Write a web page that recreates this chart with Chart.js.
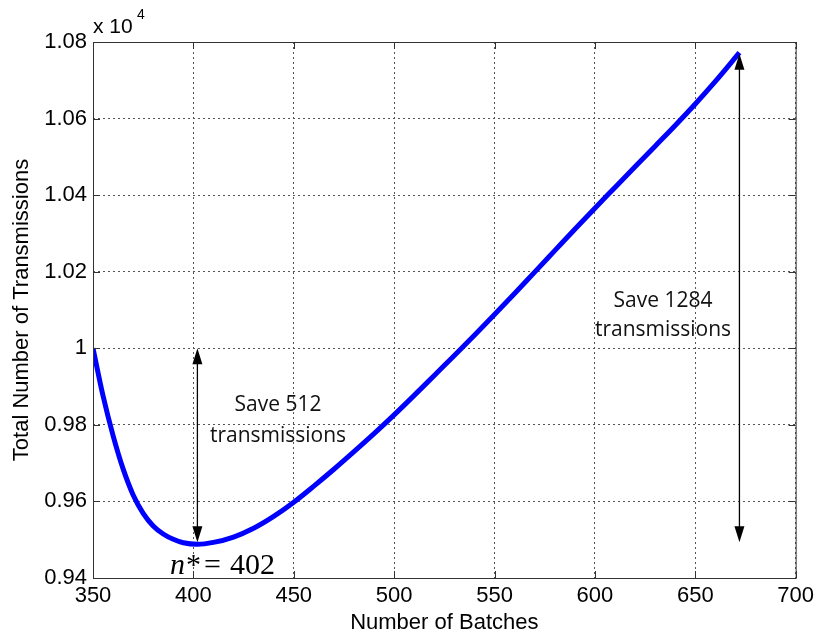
<!DOCTYPE html>
<html lang="en">
<head>
  <meta charset="UTF-8" />
  <title>Total Number of Transmissions</title>
  <script src="https://cdn.jsdelivr.net/npm/chart.js"></script>
  <style>
    html, body { margin: 0; padding: 0; background: #fff; }
    #wrap { width: 819px; height: 634px; }
  </style>
</head>
<body>
  <div id="wrap"><canvas id="batchChart" width="819" height="634"></canvas></div>

  <script>
    // number of batches vs total transmissions
    const batches = [350, 355, 360, 365, 370, 375, 380, 385, 390, 395, 402, 410, 420, 430, 440, 450, 460, 470, 480, 490,
                     500, 510, 520, 530, 540, 550, 560, 570, 580, 590, 600, 610, 620, 630, 640, 650, 660, 672];
    const transmissions = [10000, 9876, 9772, 9685, 9617, 9569, 9536, 9515, 9501, 9492, 9488, 9493, 9507, 9530, 9561, 9598, 9640, 9684, 9730, 9777,
                           9826, 9877, 9929, 9981, 10034, 10088, 10143, 10199, 10255, 10311, 10366, 10420, 10474, 10528, 10582, 10638, 10697, 10772];
    const xTicks = [350, 400, 450, 500, 550, 600, 650, 700];
    const yTicks = [9400, 9600, 9800, 10000, 10200, 10400, 10600, 10800];

    // arrows: x position, from, to
    const optimum = { n: 402, low: 9488, high: 10000, save: 512 };
    const worst = { n: 672, low: 9488, high: 10772, save: 1284 };

    const axisFont = { family: '"Liberation Sans", Arial', size: 22 };
    const noteFont = '21px "Open Sans", "Liberation Sans", sans-serif';

    function arrow(ctx, x, y1, y2) {
      ctx.save();
      ctx.strokeStyle = '#000';
      ctx.fillStyle = '#000';
      ctx.lineWidth = 1.3;
      ctx.beginPath();
      ctx.moveTo(x, y1 + 12);
      ctx.lineTo(x, y2 - 12);
      ctx.stroke();
      [[y1, 1], [y2, -1]].forEach(([y, d]) => {
        ctx.beginPath();
        ctx.moveTo(x, y);
        ctx.lineTo(x - 5, y + d * 16);
        ctx.lineTo(x + 5, y + d * 16);
        ctx.closePath();
        ctx.fill();
      });
      ctx.restore();
    }

    const extras = {
      id: 'extras',
      afterDraw(chart) {
        const ctx = chart.ctx;
        const xs = chart.scales.x, ys = chart.scales.y;
        const a = chart.chartArea;

        // box and inward ticks
        ctx.save();
        ctx.strokeStyle = '#333';
        ctx.lineWidth = 1;
        ctx.strokeRect(a.left + 0.5, a.top + 0.5, a.right - a.left, a.bottom - a.top);
        ctx.beginPath();
        xTicks.forEach(v => {
          const px = Math.round(xs.getPixelForValue(v)) + 0.5;
          ctx.moveTo(px, a.bottom); ctx.lineTo(px, a.bottom - 7);
          ctx.moveTo(px, a.top); ctx.lineTo(px, a.top + 7);
        });
        yTicks.forEach(v => {
          const py = Math.round(ys.getPixelForValue(v)) + 0.5;
          ctx.moveTo(a.left, py); ctx.lineTo(a.left + 7, py);
          ctx.moveTo(a.right, py); ctx.lineTo(a.right - 7, py);
        });
        ctx.stroke();

        // exponent label
        ctx.fillStyle = '#000';
        ctx.font = '21px "Liberation Sans", Arial';
        ctx.textAlign = 'left';
        ctx.textBaseline = 'alphabetic';
        ctx.fillText('x 10', 93, 33);
        ctx.font = '14px "Liberation Sans", Arial';
        ctx.fillText('4', 137, 19);
        ctx.restore();

        // arrows
        const x1 = xs.getPixelForValue(optimum.n);
        arrow(ctx, x1, ys.getPixelForValue(optimum.high), ys.getPixelForValue(optimum.low) - 2);
        const x2 = xs.getPixelForValue(worst.n);
        arrow(ctx, x2, ys.getPixelForValue(worst.high) + 1, ys.getPixelForValue(worst.low) - 2);

        // notes
        ctx.save();
        ctx.fillStyle = '#111';
        ctx.font = noteFont;
        ctx.textAlign = 'center';
        ctx.textBaseline = 'middle';
        ctx.fillText('Save ' + optimum.save, 278, 405);
        ctx.fillText('transmissions', 278, 436);
        ctx.fillText('Save ' + worst.save, 663, 301);
        ctx.fillText('transmissions', 663, 330);

        // n* = 402
        ctx.textAlign = 'left';
        ctx.textBaseline = 'alphabetic';
        ctx.fillStyle = '#000';
        ctx.font = 'italic 30px "Liberation Serif", "Times New Roman", serif';
        ctx.fillText('n', 170, 574);
        ctx.font = '30px "Liberation Serif", "Times New Roman", serif';
        ctx.fillText('*', 186, 574);
        ctx.fillText('=', 204, 574);
        ctx.fillText(String(optimum.n), 230, 574);
        ctx.restore();
      }
    };

    const ctx = document.getElementById('batchChart').getContext('2d');
    new Chart(ctx, {
      type: 'line',
      data: {
        datasets: [{
          data: batches.map((b, i) => ({ x: b, y: transmissions[i] })),
          borderColor: '#0000ff',
          borderWidth: 5,
          pointRadius: 0,
          cubicInterpolationMode: 'monotone',
          fill: false
        }]
      },
      options: {
        responsive: false,
        animation: false,
        layout: { padding: { top: 42, right: 21, left: 0, bottom: 0 } },
        plugins: { legend: { display: false }, tooltip: { enabled: false } },
        scales: {
          x: {
            type: 'linear',
            min: 350, max: 700,
            afterBuildTicks: s => { s.ticks = xTicks.map(v => ({ value: v })); },
            afterFit: s => { s.height = 56; },
            ticks: { color: '#000', font: axisFont, padding: 5, maxRotation: 0 },
            grid: { color: '#555', drawTicks: false },
            border: { display: false, dash: [2, 3] },
            title: { display: true, text: 'Number of Batches', color: '#000', font: axisFont, padding: { top: 0, bottom: -2 } }
          },
          y: {
            min: 9400, max: 10800,
            afterBuildTicks: s => { s.ticks = yTicks.map(v => ({ value: v })); },
            afterFit: s => { s.width = 93; },
            ticks: {
              color: '#000', font: axisFont, padding: 6,
              callback: v => String(Math.round(v / 100) / 100)
            },
            grid: { color: '#555', drawTicks: false },
            border: { display: false, dash: [2, 3] },
            title: { display: true, text: 'Total Number of Transmissions', color: '#000', font: axisFont, padding: { top: 9, bottom: 0 } }
          }
        }
      },
      plugins: [extras]
    });
  </script>
</body>
</html>
